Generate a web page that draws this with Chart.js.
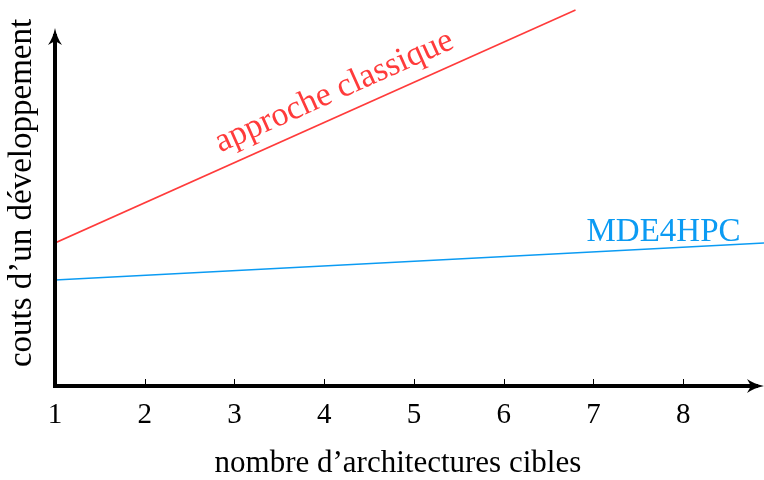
<!DOCTYPE html>
<html>
<head>
<meta charset="utf-8">
<script src="https://cdn.jsdelivr.net/npm/chart.js@4"></script>
<style>
  html, body { margin: 0; padding: 0; background: #fff; }
</style>
</head>
<body>
<canvas id="chart" width="764" height="480"></canvas>
<script>
const xTicks = [1, 2, 3, 4, 5, 6, 7, 8];
const classicX = [1, 6.8];
const classicCost = [1.43, 3.76];
const mdeX = [1, 8.9];
const mdeCost = [1.06, 1.43];

const RED = "#ff3b3b";
const BLUE = "#0b9bf3";
const SERIF = "'Liberation Serif', 'DejaVu Serif', serif";

// axes with arrows, ticks pointing up, and the two curve labels
const decor = {
  id: "decor",
  afterDatasetsDraw(chart) {
    const { ctx, scales: { x, y } } = chart;
    const x0 = x.getPixelForValue(1);
    const y0 = y.getPixelForValue(0);
    const xEnd = x.getPixelForValue(8.9);
    const yTop = 28;
    ctx.save();
    ctx.strokeStyle = "#000";
    ctx.fillStyle = "#000";
    ctx.lineWidth = 1;
    xTicks.slice(1).forEach((v) => {
      const px = Math.round(x.getPixelForValue(v)) + 0.5;
      ctx.beginPath();
      ctx.moveTo(px, y0);
      ctx.lineTo(px, y0 - 7);
      ctx.stroke();
    });
    ctx.lineWidth = 4;
    ctx.lineCap = "square";
    ctx.beginPath();
    ctx.moveTo(x0, yTop + 8);
    ctx.lineTo(x0, y0);
    ctx.lineTo(xEnd - 8, y0);
    ctx.stroke();
    // arrow heads
    ctx.beginPath();
    ctx.moveTo(x0, yTop);
    ctx.quadraticCurveTo(x0 + 2, yTop + 10, x0 + 7, yTop + 17);
    ctx.lineTo(x0, yTop + 13);
    ctx.lineTo(x0 - 7, yTop + 17);
    ctx.quadraticCurveTo(x0 - 2, yTop + 10, x0, yTop);
    ctx.fill();
    ctx.beginPath();
    ctx.moveTo(xEnd, y0);
    ctx.quadraticCurveTo(xEnd - 10, y0 - 2, xEnd - 17, y0 - 7);
    ctx.lineTo(xEnd - 13, y0);
    ctx.lineTo(xEnd - 17, y0 + 7);
    ctx.quadraticCurveTo(xEnd - 10, y0 + 2, xEnd, y0);
    ctx.fill();

    // label on the red line
    const ax = x.getPixelForValue(classicX[0]);
    const ay = y.getPixelForValue(classicCost[0]);
    const bx = x.getPixelForValue(classicX[1]);
    const by = y.getPixelForValue(classicCost[1]);
    const ang = Math.atan2(by - ay, bx - ax);
    const t = 4.22;
    const cx = x.getPixelForValue(t);
    const cy = y.getPixelForValue(classicCost[0] + (t - 1) * (classicCost[1] - classicCost[0]) / (classicX[1] - classicX[0]));
    ctx.translate(cx, cy);
    ctx.rotate(ang);
    ctx.fillStyle = RED;
    ctx.font = "34px " + SERIF;
    ctx.textAlign = "center";
    ctx.textBaseline = "alphabetic";
    ctx.fillText("approche classique", 0, -15);
    ctx.restore();

    ctx.save();
    ctx.fillStyle = BLUE;
    ctx.font = "33px " + SERIF;
    ctx.textAlign = "center";
    ctx.textBaseline = "alphabetic";
    ctx.fillText("MDE4HPC", x.getPixelForValue(7.78), y.getPixelForValue(1.45));
    ctx.restore();
  },
};

new Chart(document.getElementById("chart"), {
  type: "line",
  data: {
    datasets: [
      {
        label: "approche classique",
        data: classicX.map((v, i) => ({ x: v, y: classicCost[i] })),
        borderColor: RED,
        borderWidth: 1.6,
        pointRadius: 0,
      },
      {
        label: "MDE4HPC",
        data: mdeX.map((v, i) => ({ x: v, y: mdeCost[i] })),
        borderColor: BLUE,
        borderWidth: 1.6,
        pointRadius: 0,
      },
    ],
  },
  options: {
    responsive: false,
    animation: false,
    layout: { padding: 0 },
    plugins: { legend: { display: false }, tooltip: { enabled: false } },
    scales: {
      x: {
        type: "linear",
        min: 1,
        max: 8.9,
        grid: { display: false },
        border: { display: false },
        afterBuildTicks: (scale) => {
          scale.ticks = xTicks.map((v) => ({ value: v }));
        },
        afterFit: (scale) => { scale.height = 94; },
        ticks: {
          color: "#000",
          padding: 4,
          font: { family: SERIF, size: 29 },
          maxRotation: 0,
        },
        title: {
          display: true,
          // trailing spaces nudge the centred title left, like the original
          text: "nombre d\u2019architectures cibles\u00a0\u00a0\u00a0",
          color: "#000",
          font: { family: SERIF, size: 31 },
          padding: { top: 0, bottom: -2 },
        },
      },
      y: {
        type: "linear",
        min: 0,
        max: 3.86,
        grid: { display: false },
        border: { display: false },
        ticks: { display: false },
        afterFit: (scale) => { scale.width = 55; },
        title: {
          display: true,
          text: "couts d\u2019un d\u00e9veloppement",
          color: "#000",
          font: { family: SERIF, size: 33 },
          padding: { top: 3, bottom: 0 },
        },
      },
    },
  },
  plugins: [decor],
});
</script>
</body>
</html>
